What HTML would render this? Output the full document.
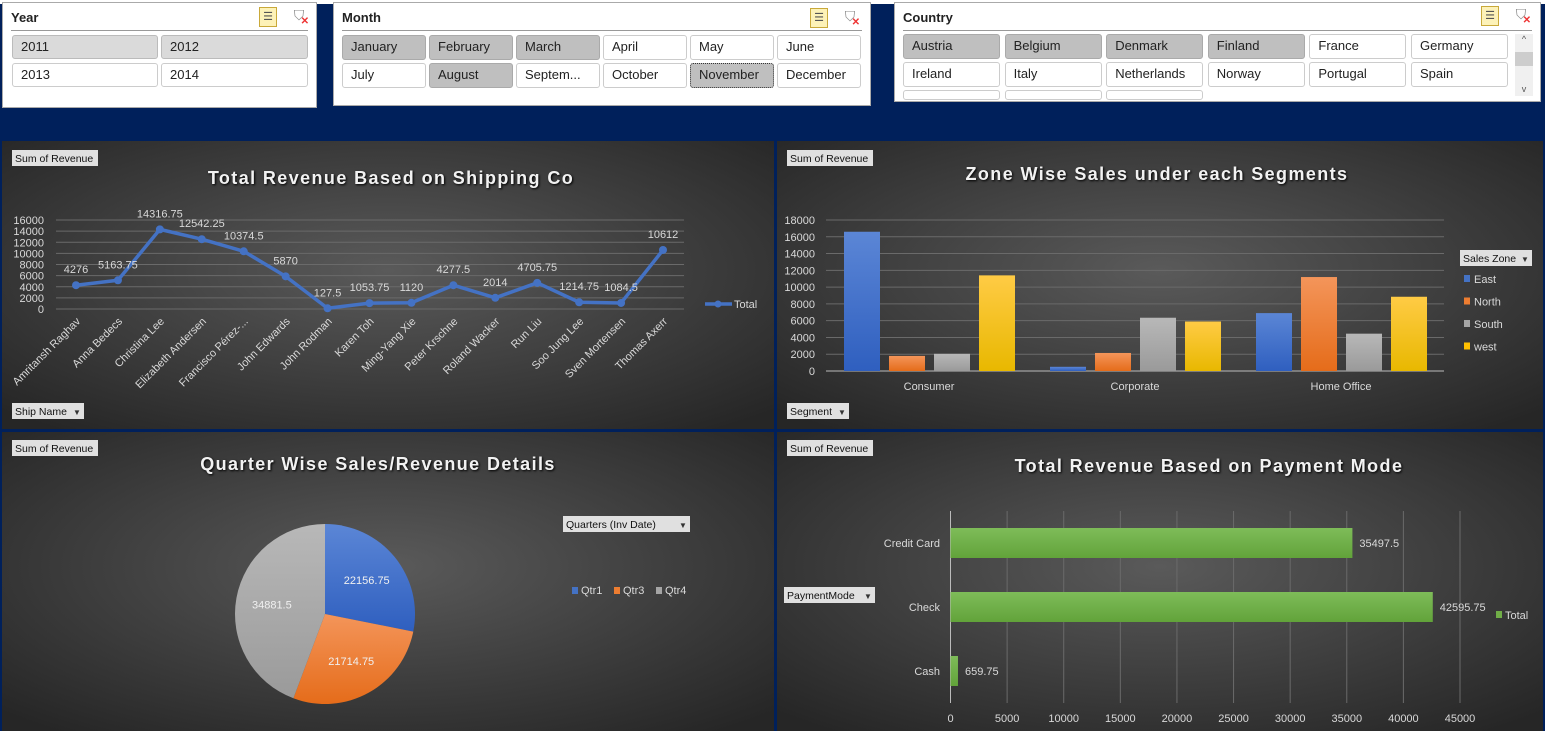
<!DOCTYPE html>
<html><head><meta charset="utf-8">
<style>
body{margin:0;width:1545px;height:731px;overflow:hidden;background:#00205b;font-family:"Liberation Sans",sans-serif;position:relative}
.slicer{position:absolute;background:#fff;border:1px solid #aaa;box-sizing:border-box}
.stitle{position:absolute;left:8px;top:7px;font-size:13px;font-weight:bold;color:#222}
.sline{position:absolute;left:8px;right:8px;top:27px;border-top:1px solid #999}
.btn{position:absolute;box-sizing:border-box;border:1px solid #ccc;border-radius:3px;background:#fff;font-size:13px;color:#222;padding-left:8px;line-height:22px;white-space:nowrap;overflow:hidden}
.sel{background:#bfbfbf;border-color:#aaa}
.sel2{background:#dadada;border-color:#bbb}
.ic1{position:absolute;width:18px;height:20px;background:#fdf2b8;border:1px solid #c9a93a;box-sizing:border-box;font-size:11px;line-height:18px;text-align:center;color:#555}
.ic2{position:absolute;width:20px;height:20px;font-size:14px;color:#888;text-align:center}
.ic2 b{color:#e33;font-size:10px;position:absolute;right:0;bottom:0}
svg{position:absolute;left:0;top:0}
</style></head><body>
<div style="position:absolute;left:0;top:0;width:1545px;height:4px;background:#fff"></div>

<div class="slicer" style="left:2px;top:2px;width:315px;height:106px">
 <div class="stitle">Year</div>
 <div class="ic1" style="left:256px;top:4px">☰</div>
 <div class="ic2" style="left:286px;top:4px">⛉<b>✕</b></div>
 <div class="sline"></div>
 <div class="btn sel2" style="left:9px;top:32px;width:146px;height:24px">2011</div>
 <div class="btn sel2" style="left:158px;top:32px;width:147px;height:24px">2012</div>
 <div class="btn" style="left:9px;top:60px;width:146px;height:24px">2013</div>
 <div class="btn" style="left:158px;top:60px;width:147px;height:24px">2014</div>
</div>

<div class="slicer" style="left:333px;top:2px;width:538px;height:104px">
 <div class="stitle">Month</div>
 <div class="ic1" style="left:476px;top:5px">☰</div>
 <div class="ic2" style="left:506px;top:5px">⛉<b>✕</b></div>
 <div class="sline"></div>
 <div id="months"></div>
</div>

<div class="slicer" style="left:894px;top:2px;width:647px;height:100px">
 <div class="stitle">Country</div>
 <div class="ic1" style="left:586px;top:3px">☰</div>
 <div class="ic2" style="left:616px;top:3px">⛉<b>✕</b></div>
 <div class="sline"></div>
 <div id="countries"></div>
 <div style="position:absolute;left:620px;top:31px;width:18px;height:62px;background:#f0f0f0">
  <div style="font-size:9px;color:#555;text-align:center">^</div>
  <div style="position:absolute;top:18px;left:0;width:18px;height:14px;background:#cdcdcd"></div>
  <div style="position:absolute;bottom:2px;width:18px;font-size:9px;color:#555;text-align:center">v</div>
 </div>
</div>

<svg id="charts" width="1545" height="731" xmlns="http://www.w3.org/2000/svg" style="top:0"></svg>

<script>
// ===== data =====
const months=["January","February","March","April","May","June","July","August","Septem...","October","November","December"];
const monthSel=[1,1,1,0,0,0,0,1,0,0,1,0];
const countries=["Austria","Belgium","Denmark","Finland","France","Germany","Ireland","Italy","Netherlands","Norway","Portugal","Spain"];
const countrySel=[1,1,1,1,0,0,0,0,0,0,0,0];

const shipNames=["Amritansh Raghav","Anna Bedecs","Christina Lee","Elizabeth Andersen","Francisco Pérez-...","John Edwards","John Rodman","Karen Toh","Ming-Yang Xie","Peter Krschne","Roland Wacker","Run Liu","Soo Jung Lee","Sven Mortensen","Thomas Axerr"];
const shipRevenue=[4276,5163.75,14316.75,12542.25,10374.5,5870,127.5,1053.75,1120,4277.5,2014,4705.75,1214.75,1084.5,10612];
const lineTicks=[0,2000,4000,6000,8000,10000,12000,14000,16000];

const segments=["Consumer","Corporate","Home Office"];
const zones=["East","North","South","west"];
const zoneEast=[16600,500,6900];
const zoneNorth=[1800,2150,11200];
const zoneSouth=[2050,6350,4450];
const zoneWest=[11400,5900,8850];
const barTicks=[0,2000,4000,6000,8000,10000,12000,14000,16000,18000];

const quarters=["Qtr1","Qtr3","Qtr4"];
const quarterRevenue=[22156.75,21714.75,34881.5];

const payModes=["Credit Card","Check","Cash"];
const payRevenue=[35497.5,42595.75,659.75];
const payTicks=[0,5000,10000,15000,20000,25000,30000,35000,40000,45000];

// ===== slicers =====
const mc=document.getElementById('months');
months.forEach((m,i)=>{const d=document.createElement('div');d.className='btn'+(monthSel[i]?' sel':'');
 d.style.left=(8+(i%6)*87)+'px';d.style.top=(32+Math.floor(i/6)*28)+'px';d.style.width='84px';d.style.height='25px';
 if(i==10){d.style.border='1px dotted #333';}
 d.textContent=m;
 
 mc.appendChild(d);});
const cc=document.getElementById('countries');
countries.forEach((c,i)=>{const d=document.createElement('div');d.className='btn'+(countrySel[i]?' sel':'');
 d.style.left=(8+(i%6)*101.6)+'px';d.style.top=(31+Math.floor(i/6)*28)+'px';d.style.width='97px';d.style.height='25px';
 d.textContent=c;
 
 cc.appendChild(d);});
for(let i=0;i<3;i++){const d=document.createElement('div');d.className='btn';d.style.left=(8+i*101.6)+'px';d.style.top='87px';d.style.width='97px';d.style.height='10px';
 
 cc.appendChild(d);}

// ===== charts =====
const NS="http://www.w3.org/2000/svg";const svg=document.getElementById('charts');
function el(tag,attrs,parent,txt){const e=document.createElementNS(NS,tag);for(const k in attrs)e.setAttribute(k,attrs[k]);if(txt!==undefined)e.textContent=txt;(parent||svg).appendChild(e);return e;}
const defs=el('defs',{});
defs.innerHTML=`<radialGradient id="bg" cx="50%" cy="45%" r="70%"><stop offset="0" stop-color="#5a5a5a"/><stop offset="1" stop-color="#262626"/></radialGradient>
<linearGradient id="gBlue" x1="0" y1="0" x2="0" y2="1"><stop offset="0" stop-color="#5b86d6"/><stop offset="1" stop-color="#2f5fbf"/></linearGradient>
<linearGradient id="gOr" x1="0" y1="0" x2="0" y2="1"><stop offset="0" stop-color="#f4955a"/><stop offset="1" stop-color="#e56c1a"/></linearGradient>
<linearGradient id="gGr" x1="0" y1="0" x2="0" y2="1"><stop offset="0" stop-color="#b8b8b8"/><stop offset="1" stop-color="#9a9a9a"/></linearGradient>
<linearGradient id="gYe" x1="0" y1="0" x2="0" y2="1"><stop offset="0" stop-color="#ffcb45"/><stop offset="1" stop-color="#e8b800"/></linearGradient>
<linearGradient id="gGreen" x1="0" y1="0" x2="0" y2="1"><stop offset="0" stop-color="#7ebc59"/><stop offset="1" stop-color="#62a33a"/></linearGradient>`;
const panels=[[2,141,772,288,'shipping-panel'],[777,141,766,288,'zone-panel'],[2,432,772,299,'quarter-panel'],[777,432,766,299,'payment-panel']];
panels.forEach(p=>{const r=el('rect',{x:p[0],y:p[1],width:p[2],height:p[3],fill:'url(#bg)'});
 });
const TXT='#d9d9d9';
function text(x,y,s,o,name){const t=el('text',Object.assign({x:x,y:y,fill:TXT,'font-size':11,'font-family':'Liberation Sans, sans-serif'},o||{}),svg,s);
 return t;}
function fbtn(x,y,w,label,arrow,name){const g=el('g',{});el('rect',{x:x,y:y,width:w,height:16,fill:'#e0e0e0'},g);
 el('text',{x:x+3,y:y+12,'font-size':10.5,fill:'#111','font-family':'Liberation Sans, sans-serif'},g,label);
 if(arrow)el('text',{x:x+w-11,y:y+12,'font-size':8,fill:'#333'},g,'▼');
 }
function title(x,y,s,name){const t=text(x,y,s,{'font-size':18,'font-weight':'bold',fill:'#f2f2f2','text-anchor':'middle','letter-spacing':'1.4'},name);t.style.filter='drop-shadow(1px 1px 1px #000)';}

// --- line chart ---
fbtn(12,150,86,'Sum of Revenue',false,'shipping-sum-of-revenue-button');
fbtn(12,403,72,'Ship Name',true,'ship-name-filter-button');
title(391,184,'Total Revenue Based on Shipping Co','shipping-chart-title');
const lx=i=>76+i*(663-76)/(shipNames.length-1), ly=v=>309-v*(309-220)/16000;
lineTicks.forEach(t=>{el('line',{x1:56,x2:684,y1:ly(t),y2:ly(t),stroke:'#6a6a6a','stroke-width':1});
 text(44,ly(t)+4,t,{'text-anchor':'end'},'line-y-tick');});
el('polyline',{points:shipRevenue.map((v,i)=>lx(i)+','+ly(v)).join(' '),fill:'none',stroke:'#4472c4','stroke-width':3.5,'stroke-linejoin':'round'});
shipRevenue.forEach((v,i)=>{const c=el('circle',{cx:lx(i),cy:ly(v),r:4,fill:'#4472c4'});
 
 text(lx(i),ly(v)-12,v,{'text-anchor':'middle'},'line-data-label');});
shipNames.forEach((n,i)=>{text(lx(i)+5,322,n,{'text-anchor':'end',transform:`rotate(-45 ${lx(i)+5} 322)`},'ship-name-label');});
el('line',{x1:705,x2:732,y1:304,y2:304,stroke:'#4472c4','stroke-width':3.5});el('circle',{cx:718,cy:304,r:3.5,fill:'#4472c4'});
text(734,308,'Total',{},'line-legend-total');

// --- zone bar chart ---
fbtn(787,150,86,'Sum of Revenue',false,'zone-sum-of-revenue-button');
fbtn(787,403,62,'Segment',true,'segment-filter-button');
title(1157,180,'Zone Wise Sales under each Segments','zone-chart-title');
const by=v=>371-v*(371-220)/18000;
barTicks.forEach(t=>{el('line',{x1:826,x2:1444,y1:by(t),y2:by(t),stroke:t?'#6a6a6a':'#bbb'});
 text(815,by(t)+4,t,{'text-anchor':'end'},'bar-y-tick');});
const series=[zoneEast,zoneNorth,zoneSouth,zoneWest],fills=['url(#gBlue)','url(#gOr)','url(#gGr)','url(#gYe)'],solid=['#4472c4','#ed7d31','#a5a5a5','#ffc000'];
const gw=(1444-826)/segments.length;
segments.forEach((s,gi)=>{const cx=826+gw*(gi+0.5);
 series.forEach((ser,si)=>{const x=cx-85+si*45;const r=el('rect',{x:x,y:by(ser[gi]),width:36,height:371-by(ser[gi]),fill:fills[si]});
  });
 text(cx,390,s,{'text-anchor':'middle'},'segment-label');});
fbtn(1460,250,72,'Sales Zone',true,'sales-zone-filter-button');
zones.forEach((z,i)=>{el('rect',{x:1464,y:275+i*22.5,width:6,height:7,fill:solid[i]});text(1474,283+i*22.5,z,{},'zone-legend-'+z.toLowerCase());});

// --- pie ---
fbtn(12,440,86,'Sum of Revenue',false,'quarter-sum-of-revenue-button');
title(378,470,'Quarter Wise Sales/Revenue Details','quarter-chart-title');
const pcx=325,pcy=614,pr=90,pfill=['url(#gBlue)','url(#gOr)','url(#gGr)'],psol=['#4472c4','#ed7d31','#a5a5a5'];
const tot=quarterRevenue.reduce((a,b)=>a+b,0);let acc=0;
quarterRevenue.forEach((v,i)=>{const a0=acc/tot*2*Math.PI;acc+=v;const a1=acc/tot*2*Math.PI;
 const p=(a)=>[pcx+pr*Math.sin(a),pcy-pr*Math.cos(a)];const [x0,y0]=p(a0),[x1,y1]=p(a1);
 const s=el('path',{d:`M${pcx},${pcy}L${x0},${y0}A${pr},${pr} 0 ${a1-a0>Math.PI?1:0} 1 ${x1},${y1}Z`,fill:pfill[i]});
 
 const am=(a0+a1)/2;text(pcx+pr*0.6*Math.sin(am),pcy-pr*0.6*Math.cos(am)+4,v,{'text-anchor':'middle',fill:'#f0f0f0'},'pie-data-label');});
fbtn(563,516,127,'Quarters (Inv Date)',true,'quarters-filter-button');
quarters.forEach((q,i)=>{const x=572+i*42;el('rect',{x:x,y:587,width:6,height:7,fill:psol[i]});text(x+9,594,q,{},'quarter-legend-'+q.toLowerCase());});

// --- horizontal bar ---
fbtn(787,440,86,'Sum of Revenue',false,'payment-sum-of-revenue-button');
fbtn(784,587,91,'PaymentMode',true,'payment-mode-filter-button');
title(1209,472,'Total Revenue Based on Payment Mode','payment-chart-title');
const hx=v=>950.5+v*(1460-950.5)/45000;
payTicks.forEach(t=>{el('line',{x1:hx(t),x2:hx(t),y1:511,y2:703,stroke:t?'#6a6a6a':'#bbb'});
 text(hx(t),722,t,{'text-anchor':'middle'},'payment-x-tick');});
payModes.forEach((m,i)=>{const y=528+i*64;const r=el('rect',{x:hx(0),y:y,width:hx(payRevenue[i])-hx(0),height:30,fill:'url(#gGreen)'});
 
 text(940,y+19,m,{'text-anchor':'end'},'payment-mode-label');
 text(hx(payRevenue[i])+7,y+19,payRevenue[i],{},'payment-data-label');});
el('rect',{x:1496,y:611,width:6,height:7,fill:'#70ad47'});text(1505,619,'Total',{},'payment-legend-total');
</script>
</body></html>
